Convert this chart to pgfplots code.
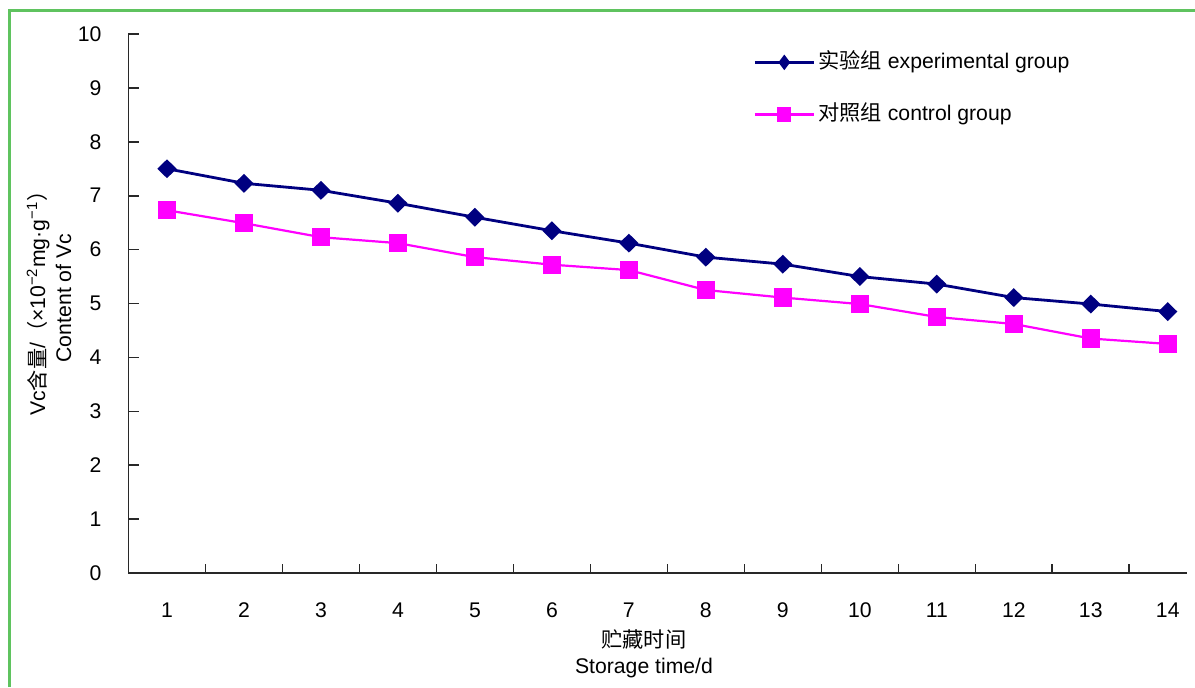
\documentclass[border=0pt]{standalone}
\usepackage{fontspec}
\setmainfont{Liberation Sans}
\newfontfamily\cjk{Noto Sans CJK SC}
\usepackage{pgfplots}
\pgfplotsset{compat=1.18}
\definecolor{navyc}{RGB}{0,0,128}
\definecolor{magc}{RGB}{255,0,255}
\definecolor{borderg}{RGB}{95,195,95}
\definecolor{axisc}{RGB}{40,40,40}
\begin{document}
\begin{tikzpicture}[font=\fontsize{10.6}{12.7}\selectfont]
\path[use as bounding box] (0,0) rectangle (597.5pt,343.5pt);
\draw[borderg, line width=1.5pt] (4.5pt,0) -- (4.5pt,338pt) -- (597.5pt,338pt);
\begin{axis}[
  at={(64.25pt,57pt)}, anchor=south west,
  scale only axis, width=529.25pt, height=269.5pt,
  xmin=0.5, xmax=14.25, ymin=0, ymax=10,
  axis x line*=bottom, axis y line*=left,
  axis line style={-, line width=0.9pt, axisc},
  xtick={1,...,14}, minor xtick={1.5,2.5,...,13.5},
  ytick={0,...,10},
  tick align=inside,
  major x tick style={draw=none},
  major tick length=5pt, minor tick length=4.5pt,
  tick style={line width=0.8pt, axisc},
  yticklabel style={xshift=-10pt},
  xticklabel style={yshift=-11.5pt},
  /pgf/number format/assume math mode=true,
  tick label style={font=\fontsize{10.6}{12.7}\selectfont},
  label style={font=\fontsize{10.6}{12.7}\selectfont},
  xlabel={{\cjk 贮藏时间}\\[0.3pt]Storage time/d},
  xlabel style={align=center, at={(axis description cs:0.487,-0.15)}, anchor=center},
  ylabel={Vc{\cjk 含量}/{\cjk （}×10\textsuperscript{−2}mg·g\textsuperscript{−1}{\cjk ）}\\[0.3pt]Content of Vc},
  ylabel style={align=center, at={(axis description cs:-0.075,0.51)}, anchor=center},
  clip=false,
  legend cell align=left,
  legend style={draw=none, fill=none, at={(axis description cs:0.5898,0.9666)}, anchor=north west,
    inner sep=0pt, row sep=16pt, font=\fontsize{10.6}{12.7}\selectfont,
    nodes={inner sep=0pt, text height=8pt, text depth=2pt},
    /tikz/every odd column/.append style={column sep=1.5pt}},
]
\addplot[color=navyc, line width=1.4pt, mark=diamond*, mark size=3.75pt,
  mark options={xscale=1.35, solid, fill=navyc},
  legend image code/.code={
    \draw[navyc, line width=1.6pt] (0pt,0pt) -- (29.5pt,0pt);
    \draw[navyc, mark=diamond*, mark size=2.75pt, mark options={fill=navyc}] plot coordinates {(14.75pt,0pt)};
  }] coordinates {
  (1,7.50)(2,7.23)(3,7.10)(4,6.86)(5,6.60)(6,6.35)(7,6.12)
  (8,5.86)(9,5.73)(10,5.50)(11,5.36)(12,5.11)(13,4.99)(14,4.85)
};
\addlegendentry{{\cjk 实验组} experimental group}
\addplot[color=magc, line width=1.1pt, mark=square*, mark size=4pt,
  mark options={solid, fill=magc},
  legend image code/.code={
    \draw[magc, line width=1.3pt] (0pt,0pt) -- (29.5pt,0pt);
    \draw[magc, mark=square*, mark size=3pt, mark options={fill=magc}] plot coordinates {(14.75pt,0pt)};
  }] coordinates {
  (1,6.73)(2,6.49)(3,6.23)(4,6.12)(5,5.86)(6,5.72)(7,5.62)
  (8,5.25)(9,5.11)(10,4.99)(11,4.75)(12,4.62)(13,4.35)(14,4.25)
};
\addlegendentry{{\cjk 对照组} control group}
\end{axis}
\end{tikzpicture}
\end{document}
